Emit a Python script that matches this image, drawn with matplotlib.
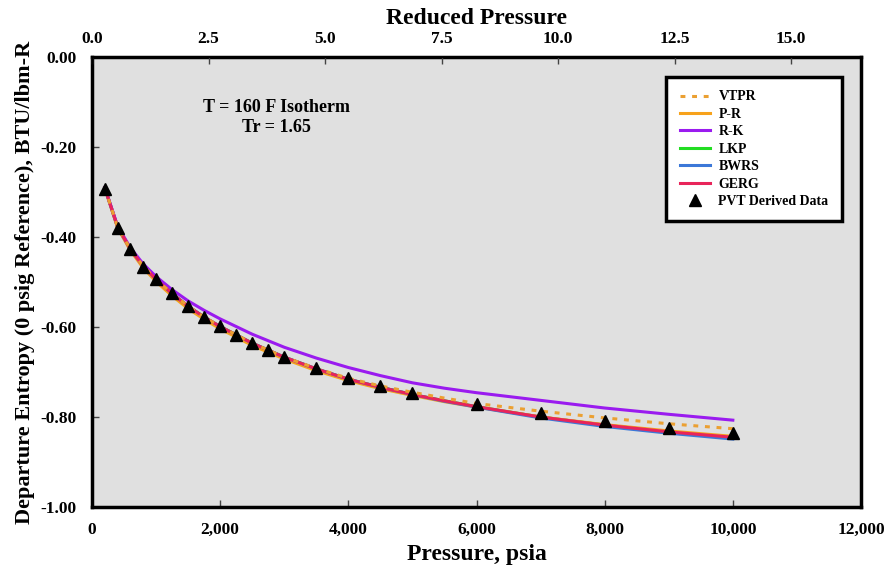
import matplotlib
matplotlib.use("Agg")
import matplotlib.pyplot as plt

plt.rcParams['font.family'] = ['Liberation Serif', 'DejaVu Serif']
plt.rcParams['font.weight'] = 'bold'

# Pressure (psia) grid for model curves
p_curve = [200, 400, 600, 800, 1000, 1250, 1500, 1750, 2000, 2500, 3000,
           3500, 4000, 4500, 5000, 5500, 6000, 7000, 8000, 9000, 10000]

vtpr = [-0.291, -0.378, -0.427, -0.465, -0.494, -0.526, -0.554, -0.578, -0.599,
        -0.636, -0.667, -0.692, -0.714, -0.731, -0.745, -0.758, -0.770, -0.787,
        -0.802, -0.815, -0.826]
pr = [-0.291, -0.380, -0.430, -0.469, -0.499, -0.531, -0.559, -0.583, -0.604,
      -0.641, -0.671, -0.697, -0.719, -0.737, -0.752, -0.766, -0.778, -0.800,
      -0.817, -0.831, -0.843]
rk = [-0.290, -0.376, -0.424, -0.460, -0.488, -0.517, -0.542, -0.563, -0.582,
      -0.616, -0.645, -0.669, -0.690, -0.708, -0.724, -0.736, -0.746, -0.763,
      -0.780, -0.794, -0.807]
lkp = [-0.291, -0.378, -0.427, -0.465, -0.494, -0.526, -0.554, -0.578, -0.599,
       -0.636, -0.667, -0.693, -0.716, -0.734, -0.750, -0.764, -0.777, -0.800,
       -0.818, -0.833, -0.845]
bwrs = [-0.291, -0.378, -0.427, -0.465, -0.494, -0.526, -0.554, -0.578, -0.599,
        -0.636, -0.667, -0.693, -0.716, -0.734, -0.750, -0.765, -0.778, -0.802,
        -0.821, -0.836, -0.849]
gerg = [-0.291, -0.378, -0.427, -0.465, -0.494, -0.526, -0.554, -0.578, -0.599,
        -0.636, -0.667, -0.693, -0.716, -0.734, -0.750, -0.764, -0.777, -0.800,
        -0.818, -0.833, -0.845]

# PVT derived data
p_data = [200, 400, 600, 800, 1000, 1250, 1500, 1750, 2000, 2250, 2500, 2750, 3000,
          3500, 4000, 4500, 5000, 6000, 7000, 8000, 9000, 10000]
s_data = [-0.293, -0.379, -0.427, -0.466, -0.493, -0.525, -0.553, -0.577, -0.598,
          -0.618, -0.636, -0.651, -0.666, -0.692, -0.714, -0.731, -0.747, -0.771,
          -0.792, -0.808, -0.825, -0.836]

x_ticks = [0, 2000, 4000, 6000, 8000, 10000, 12000]
x_ticklabels = ['0', '2,000', '4,000', '6,000', '8,000', '10,000', '12,000']
y_ticks = [0.0, -0.2, -0.4, -0.6, -0.8, -1.0]
y_ticklabels = ['0.00', '-0.20', '-0.40', '-0.60', '-0.80', '-1.00']
top_ticks = [0.0, 2.5, 5.0, 7.5, 10.0, 12.5, 15.0]
top_ticklabels = ['0.0', '2.5', '5.0', '7.5', '10.0', '12.5', '15.0']

fig = plt.figure(figsize=(8.88, 5.67), dpi=100)
ax = fig.add_axes([0.1036, 0.1058, 0.866, 0.7937])
ax.set_facecolor('#E0E0E0')

ax.plot(p_curve, lkp, color='#22DD22', lw=2.2, label='LKP', zorder=2)
ax.plot(p_curve, pr, color='#F7A21B', lw=2.2, label='P-R', zorder=2)
ax.plot(p_curve, bwrs, color='#3C78D8', lw=2.2, label='BWRS', zorder=3)
ax.plot(p_curve, rk, color='#9A1BEF', lw=2.2, label='R-K', zorder=3)
ax.plot(p_curve, gerg, color='#E8245A', lw=2.2, label='GERG', zorder=4)
ax.plot(p_curve, vtpr, color='#EBA032', lw=2.2, ls=(0, (1.6, 2.2)), label='VTPR', zorder=5)
ax.plot(p_data, s_data, ls='none', marker='^', ms=9, color='black',
        label='PVT Derived Data', zorder=6)

ax.set_xlim(0, 12000)
ax.set_ylim(-1.0, 0.0)
ax.set_xticks(x_ticks)
ax.set_xticklabels(x_ticklabels)
ax.set_yticks(y_ticks)
ax.set_yticklabels(y_ticklabels)
ax.tick_params(direction='in', length=5, width=1, labelsize=12.5, pad=11, color='#444444')
for s in ax.spines.values():
    s.set_linewidth(2.5)

ax.set_xlabel('Pressure, psia', fontsize=17, fontweight='bold', labelpad=4)
ax.set_ylabel('Departure Entropy (0 psig Reference), BTU/lbm-R', fontsize=16,
              fontweight='bold', labelpad=4)

ax2 = ax.twiny()
ax2.set_xlim(0, 16.5)
ax2.set_xticks(top_ticks)
ax2.set_xticklabels(top_ticklabels)
ax2.tick_params(direction='in', length=5, width=1, labelsize=12.5, pad=7, color='#444444')
ax2.set_xlabel('Reduced Pressure', fontsize=17, fontweight='bold', labelpad=5)

ax.text(0.24, 0.865, 'T = 160 F Isotherm\nTr = 1.65', transform=ax.transAxes,
        ha='center', va='center', fontsize=13, fontweight='bold', linespacing=1.25)

order = ['VTPR', 'P-R', 'R-K', 'LKP', 'BWRS', 'GERG', 'PVT Derived Data']
handles, labels = ax.get_legend_handles_labels()
hmap = dict(zip(labels, handles))
leg = ax.legend([hmap[k] for k in order], order, loc='upper right',
                bbox_to_anchor=(0.975, 0.955), fontsize=10, frameon=True,
                fancybox=False, edgecolor='black', framealpha=1,
                handlelength=2.2, borderpad=0.95, labelspacing=0.32,
                handletextpad=0.6, borderaxespad=0)
leg.get_frame().set_linewidth(2.5)
for t in leg.get_texts():
    t.set_fontweight('bold')

fig.savefig('out.png', dpi=100)
